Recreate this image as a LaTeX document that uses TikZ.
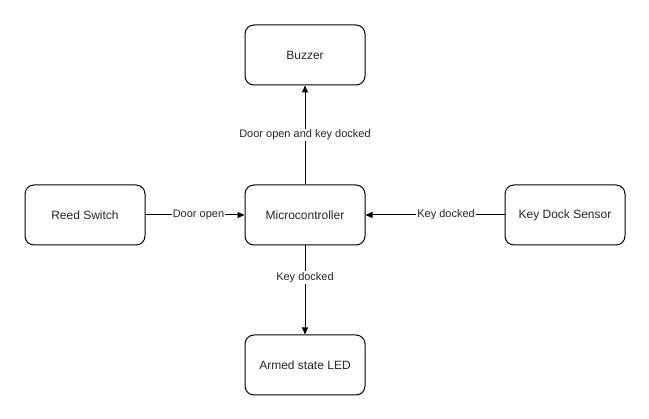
\documentclass[tikz,border=0pt]{standalone}
\usepackage{fontspec}
\setmainfont{Liberation Sans}
\usetikzlibrary{arrows.meta}
\begin{document}
\begin{tikzpicture}[x=1pt,y=-1pt,
  blk/.style={draw=black,line width=1pt,fill=white,rounded corners=9pt,minimum width=120pt,minimum height=60pt,inner sep=0pt,font=\fontsize{12}{14}\selectfont,text=black!85},
  conn/.style={draw=black,line width=1pt,-{Triangle[length=7pt,width=6pt]}},
  lbl/.style={fill=white,inner sep=1pt,font=\fontsize{11}{13}\selectfont,text=black!85}]
\useasboundingbox (0,0) rectangle (649,419);
\node[blk] (buz) at (305,55) {Buzzer};
\node[blk] (reed) at (85,215) {Reed Switch};
\node[blk] (mcu) at (305,215) {Microcontroller};
\node[blk] (kds) at (565,215) {Key Dock Sensor};
\node[blk] (led) at (305,365) {Armed state LED};
\draw[conn] (reed) -- node[lbl,pos=0.535]{Door open} (mcu);
\draw[conn] (kds) -- node[lbl,pos=0.42]{Key docked} (mcu);
\draw[conn] (mcu) -- node[lbl,pos=0.5]{Door open and key docked} (buz);
\draw[conn] (mcu) -- node[lbl,pos=0.36]{Key docked} (led);
\end{tikzpicture}
\end{document}
